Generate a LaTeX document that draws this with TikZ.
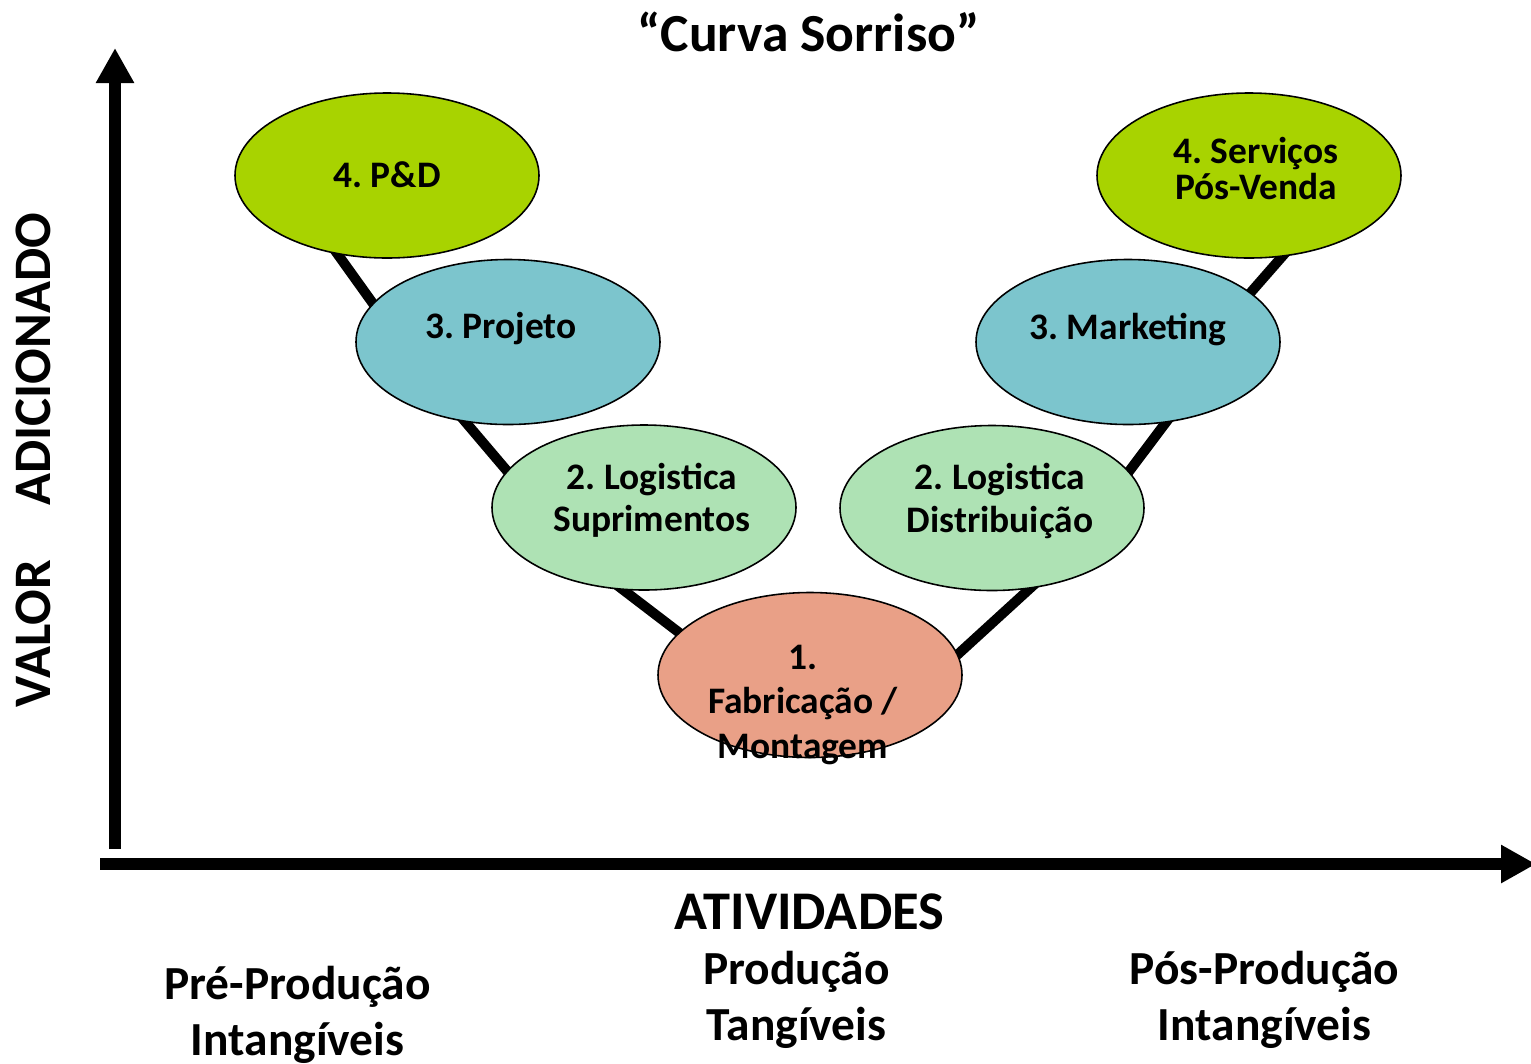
\documentclass[tikz,border=0pt]{standalone}
\usepackage{fontspec}
\setmainfont{Carlito}
\usepackage{xcolor}
\usetikzlibrary{arrows.meta,shapes.geometric,positioning,backgrounds}
\frenchspacing

\definecolor{stagelime}{HTML}{A8D300}
\definecolor{stageteal}{HTML}{7CC5CD}
\definecolor{stagemint}{HTML}{AEE2B4}
\definecolor{stagesalmon}{HTML}{E9A087}

\begin{document}
\begin{tikzpicture}[on grid,
            stage node/.style={ellipse,draw,line width=0.9pt,minimum width=6.08cm,minimum height=3.3cm},
            stage text/.style={font=\fontsize{21.3}{24}\selectfont\bfseries,align=center},
            axis label/.style={font=\fontsize{31}{36}\selectfont\bfseries},
            phase label/.style={font=\fontsize{27}{32}\selectfont\bfseries,align=center},
            link/.style={line width=0.2cm,shorten <=-0.3cm,shorten >=-0.3cm},
            axis/.style={line width=0.24cm,-{Triangle[length=0.7cm,width=0.72cm]}}]

        \useasboundingbox (0,0) rectangle (30.62,-21.26);

        % the smile: seven stages
        \node[stage node,fill=stagelime] (pd) at (7.74,-3.51) {};
        \node[stage node,fill=stageteal] (proj) [below right=3.33cm and 2.42cm of pd] {};
        \node[stage node,fill=stagemint] (sup) [below right=3.31cm and 2.72cm of proj] {};
        \node[stage node,fill=stagesalmon] (fab) [below right=3.35cm and 3.32cm of sup] {};
        \node[stage node,fill=stagemint] (dist) [above right=3.34cm and 3.64cm of fab] {};
        \node[stage node,fill=stageteal] (mkt) [above right=3.32cm and 2.72cm of dist] {};
        \node[stage node,fill=stagelime] (serv) [above right=3.33cm and 2.42cm of mkt] {};

        \node[stage text] (pd-txt) at ([yshift=0.02cm]pd.center) {4. P\&D};
        \node[stage text] (proj-txt) at ([xshift=-0.14cm,yshift=0.26cm]proj.center) {3. Projeto};
        \node[stage text] (sup-txt) at ([xshift=0.16cm,yshift=0.14cm]sup.center) {2. Logistica\\Suprimentos};
        \node[stage text,font=\fontsize{21.3}{25.2}\selectfont\bfseries] (fab-txt) at ([xshift=-0.14cm,yshift=-0.6cm]fab.center) {1.\\Fabricação /\\Montagem};
        \node[stage text] (dist-txt) at ([xshift=0.16cm,yshift=0.14cm]dist.center) {2. Logistica\\Distribuição};
        \node[stage text] (mkt-txt) at ([yshift=0.26cm]mkt.center) {3. Marketing};
        \node[stage text,font=\fontsize{21.3}{21}\selectfont\bfseries] (serv-txt) at ([xshift=0.14cm,yshift=0.14cm]serv.center) {4. Serviços\\Pós-Venda};

        \begin{pgfonlayer}{background}
            \draw[link] (pd.238) -- (proj.164);
            \draw[link] (proj.242) -- (sup.165);
            \draw[link] (sup.256) -- (fab.162);
            \draw[link] (fab.8) -- (dist.295);
            \draw[link] (dist.15) -- (mkt.295);
            \draw[link] (mkt.22) -- (serv.292);
        \end{pgfonlayer}

        % axes
        \coordinate (y-base) at (2.30,-16.98);
        \coordinate (y-tip) at (2.30,-0.96);
        \coordinate (x-base) at (2.00,-17.28);
        \coordinate (x-tip) at (30.72,-17.28);
        \draw[axis] (y-base) -- (y-tip);
        \draw[axis] (x-base) -- (x-tip);

        \node[font=\fontsize{30.5}{36}\selectfont\bfseries] (title) at (16.17,-0.63) {“Curva Sorriso”};
        \node[axis label,font=\fontsize{30}{36}\selectfont\bfseries,rotate=90] (y-label) at (0.66,-9.2) {VALOR\hspace{1.1cm}ADICIONADO};
        \node[axis label] (x-label) at (16.19,-18.23) {ATIVIDADES};

        \node[phase label] (pre) at (5.95,-20.3) {Pré-Produção\\Intangíveis};
        \node[phase label] (prod) at (15.93,-20.0) {Produção\\Tangíveis};
        \node[phase label] (pos) at (25.29,-20.0) {Pós-Produção\\Intangíveis};

    \end{tikzpicture}
\end{document}
